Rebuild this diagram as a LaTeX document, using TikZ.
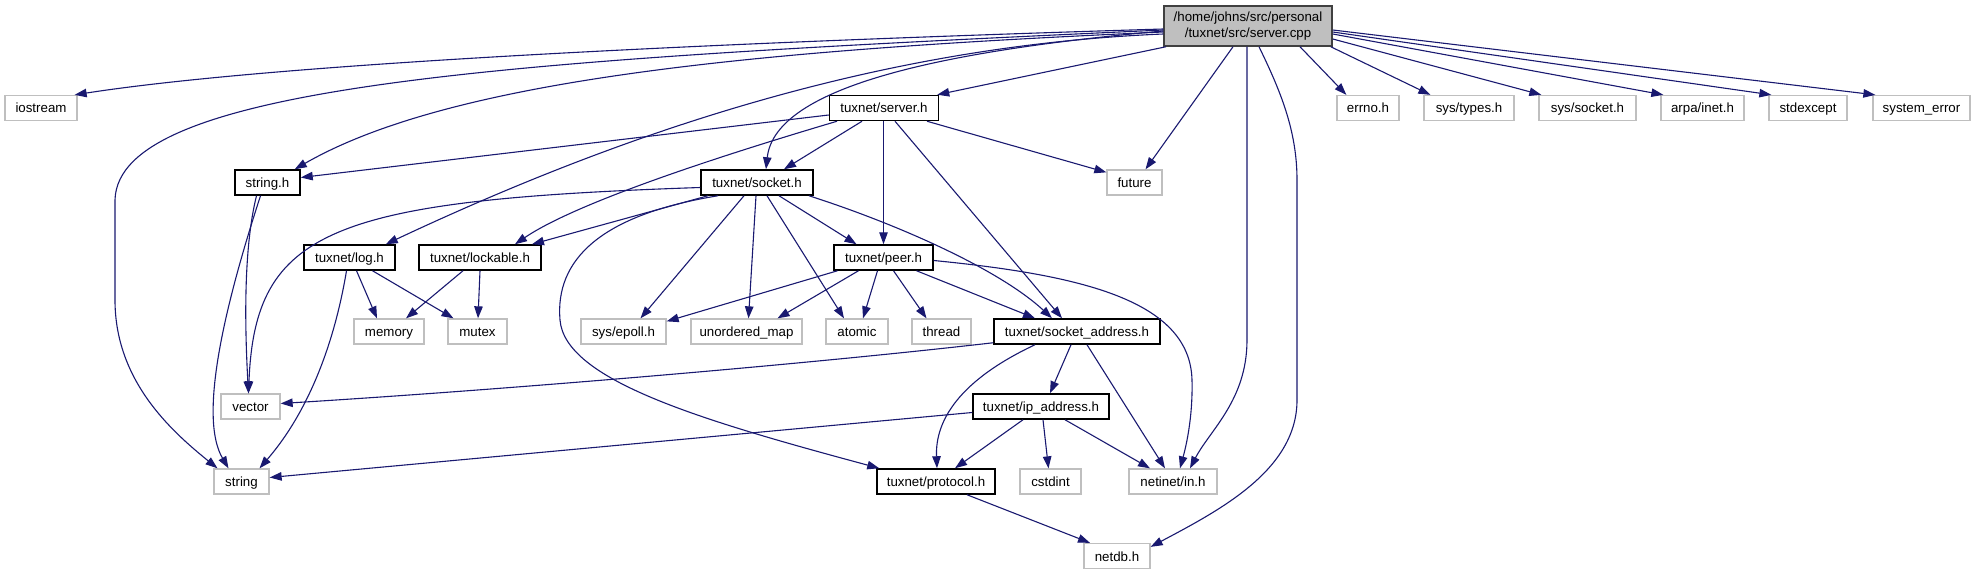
\documentclass[tikz,border=0pt]{standalone}
\usepackage{fontspec}
\setmainfont{Liberation Sans}
\usetikzlibrary{arrows.meta}
\definecolor{edgeblue}{HTML}{191970}
\definecolor{gborder}{HTML}{BFBFBF}
\definecolor{rootfill}{HTML}{BFBFBF}
\begin{document}
\begin{tikzpicture}[x=1pt,y=-1pt,
  base/.style={rectangle, inner sep=0pt, minimum height=25pt, text height=10.5pt, text depth=0.5pt, font=\fontsize{13.3}{15.5}\selectfont},
  gbox/.style={base, draw=gborder, line width=1.3pt},
  bbox/.style={base, draw=black, line width=1.5pt},
  rootbox/.style={rectangle, inner sep=0pt, minimum height=40pt, minimum width=168pt, align=center, fill=rootfill, draw=black!75, line width=1.5pt, font=\fontsize{13.3}{15.5}\selectfont},
  wd/.style={minimum width=#1pt},
  dep/.style={draw=edgeblue, line width=1.1pt, -{Triangle[length=12pt,width=8.5pt]}}
]
\useasboundingbox (0,0) rectangle (1976,575);

% nodes
\node[rootbox] (root) at (1248,26) {/home/johns/src/personal\\/tuxnet/src/server.cpp};
\node[gbox,wd=72] (iostream) at (41,108) {iostream};
\node[bbox,wd=109] (serverh) at (884,108) {tuxnet/server.h};
\node[gbox,wd=62] (errno) at (1368,108) {errno.h};
\node[gbox,wd=90] (systypes) at (1469,108) {sys/types.h};
\node[gbox,wd=97] (syssocket) at (1587.5,108) {sys/socket.h};
\node[gbox,wd=83] (arpainet) at (1702.5,108) {arpa/inet.h};
\node[gbox,wd=78] (stdexcept) at (1808,108) {stdexcept};
\node[gbox,wd=97] (syserror) at (1921.5,108) {system\_error};

\node[bbox,wd=65] (stringh) at (267.5,182.5) {string.h};
\node[bbox,wd=112] (socketh) at (757,182.5) {tuxnet/socket.h};
\node[gbox,wd=55] (future) at (1134.5,182.5) {future};

\node[bbox,wd=91] (logh) at (349.5,257.5) {tuxnet/log.h};
\node[bbox,wd=122] (lockable) at (480,257.5) {tuxnet/lockable.h};
\node[bbox,wd=99] (peerh) at (883.5,257.5) {tuxnet/peer.h};

\node[gbox,wd=70] (memory) at (389,331.5) {memory};
\node[gbox,wd=59] (mutex) at (477.5,331.5) {mutex};
\node[gbox,wd=85] (epoll) at (623.5,331.5) {sys/epoll.h};
\node[gbox,wd=111] (umap) at (746.5,331.5) {unordered\_map};
\node[gbox,wd=62] (atomic) at (857,331.5) {atomic};
\node[gbox,wd=59] (thread) at (941.5,331.5) {thread};
\node[bbox,wd=166] (sockaddr) at (1077,331.5) {tuxnet/socket\_address.h};

\node[gbox,wd=59] (vector) at (250.5,406.5) {vector};
\node[bbox,wd=136] (ipaddr) at (1041,406.5) {tuxnet/ip\_address.h};

\node[gbox,wd=55] (string) at (241.5,481.5) {string};
\node[bbox,wd=118] (protocol) at (936,481.5) {tuxnet/protocol.h};
\node[gbox,wd=61] (cstdint) at (1050.5,481.5) {cstdint};
\node[gbox,wd=88] (netinet) at (1173,481.5) {netinet/in.h};

\node[gbox,wd=66] (netdb) at (1117,556) {netdb.h};

% edges from root
\draw[dep] ([yshift=-3pt]root.west) .. controls (800,40) and (300,60) .. ([xshift=-3pt]iostream.north east);
\draw[dep] ([yshift=-4pt]root.west) .. controls (500,60) and (118,85) .. (115,200) -- (115,300) .. controls (115,380) and (170,430) .. ([xshift=-24pt]string.north);
\draw[dep] ([yshift=-6pt]root.west) .. controls (750,50) and (450,80) .. ([xshift=-6pt]stringh.north east);
\draw[dep] ([yshift=-8pt]root.west) .. controls (900,45) and (650,120) .. ([xshift=-10pt]logh.north east);
\draw[dep] ([yshift=-5pt]root.west) .. controls (950,50) and (775,85) .. ([xshift=9pt]socketh.north);
\draw[dep] ([xshift=-82pt]root.south) -- ([xshift=-2pt]serverh.north east);
\draw[dep] ([xshift=-15pt]root.south) -- ([xshift=11pt]future.north);
\draw[dep] ([xshift=-1pt]root.south) -- (1247,340) .. controls (1247,400) and (1210,430) .. ([xshift=17pt]netinet.north);
\draw[dep] ([xshift=11pt]root.south) .. controls (1280,90) and (1297,130) .. (1297,180) -- (1297,400) .. controls (1297,470) and (1220,510) .. ([yshift=-4pt]netdb.north east);
\draw[dep] ([xshift=52pt]root.south) -- ([xshift=10pt]errno.north west);
\draw[dep] ([xshift=-2pt]root.south east) -- ([xshift=7pt]systypes.north west);
\draw[dep] ([yshift=-13pt]root.east) -- ([xshift=3pt]syssocket.north west);
\draw[dep] ([yshift=-8pt]root.east) -- ([xshift=3pt]arpainet.north west);
\draw[dep] ([yshift=-6pt]root.east) -- ([xshift=3pt]stdexcept.north west);
\draw[dep] ([yshift=-4pt]root.east) -- ([xshift=3pt]syserror.north west);

% edges from server.h
\draw[dep] ([yshift=-7pt]serverh.west) -- ([yshift=5pt]stringh.east);
\draw[dep] ([xshift=-22pt]serverh.south) -- ([xshift=27pt]socketh.north);
\draw[dep] ([xshift=-47pt]serverh.south) .. controls (740,150) and (580,200) .. ([xshift=35pt]lockable.north);
\draw[dep] ([xshift=-0.5pt]serverh.south) -- (peerh.north);
\draw[dep] ([xshift=11pt]serverh.south) -- ([xshift=-15pt]sockaddr.north);
\draw[dep] ([xshift=43pt]serverh.south) -- ([yshift=-3pt]future.north west);

% edges from string.h
\draw[dep] ([xshift=-11pt]stringh.south) .. controls (243,250) and (245,330) .. ([xshift=-2pt]vector.north);
\draw[dep] ([xshift=-7pt]stringh.south) .. controls (220,320) and (200,420) .. ([xshift=-13pt]string.north);

% edges from socket.h
\draw[dep] ([yshift=-5pt]socketh.west) .. controls (330,200) and (255,230) .. ([xshift=-2pt]vector.north);
\draw[dep] ([xshift=-49pt]socketh.south) -- ([xshift=52pt]lockable.north);
\draw[dep] ([xshift=-39pt]socketh.south) .. controls (600,215) and (555,260) .. (560,320) .. controls (565,380) and (700,420) .. ([xshift=3pt]protocol.north west);
\draw[dep] ([xshift=-13pt]socketh.south) -- ([xshift=17pt]epoll.north);
\draw[dep] ([xshift=-1pt]socketh.south) -- ([xshift=2pt]umap.north);
\draw[dep] ([xshift=10pt]socketh.south) -- ([xshift=-13pt]atomic.north);
\draw[dep] ([xshift=22pt]socketh.south) -- ([xshift=-27pt]peerh.north);
\draw[dep] ([xshift=52pt]socketh.south) .. controls (900,225) and (1000,270) .. ([xshift=-25pt]sockaddr.north);

% edges from log.h
\draw[dep] ([xshift=7pt]logh.south) -- ([xshift=-12pt]memory.north);
\draw[dep] ([xshift=23pt]logh.south) -- ([xshift=-24pt]mutex.north);
\draw[dep] ([xshift=-3pt]logh.south) .. controls (335,340) and (310,410) .. ([xshift=18pt]string.north);

% edges from lockable.h
\draw[dep] ([xshift=-17pt]lockable.south) -- ([xshift=17pt]memory.north);
\draw[dep] (lockable.south) -- ([xshift=0.5pt]mutex.north);

% edges from peer.h
\draw[dep] ([xshift=-46pt]peerh.south) -- ([yshift=-3pt]epoll.north east);
\draw[dep] ([xshift=-25pt]peerh.south) -- ([xshift=31pt]umap.north);
\draw[dep] ([xshift=-6pt]peerh.south) -- ([xshift=6pt]atomic.north);
\draw[dep] ([xshift=10pt]peerh.south) -- ([xshift=-15pt]thread.north);
\draw[dep] ([xshift=33pt]peerh.south) -- ([xshift=-42pt]sockaddr.north);
\draw[dep] ([yshift=-3pt]peerh.east) .. controls (1080,275) and (1190,300) .. (1192,380) .. controls (1193,420) and (1185,450) .. ([xshift=7pt]netinet.north);

% edges from socket_address.h
\draw[dep] ([yshift=2pt]sockaddr.south west) .. controls (800,365) and (500,390) .. ([yshift=3pt]vector.east);
\draw[dep] ([xshift=-42pt]sockaddr.south) .. controls (960,380) and (935,420) .. ([xshift=1pt]protocol.north);
\draw[dep] ([xshift=-6pt]sockaddr.south) -- ([xshift=9pt]ipaddr.north);
\draw[dep] ([xshift=10pt]sockaddr.south) -- ([xshift=-8pt]netinet.north);

% edges from ip_address.h
\draw[dep] ([yshift=-6pt]ipaddr.west) -- ([yshift=4pt]string.east);
\draw[dep] ([xshift=-18pt]ipaddr.south) -- ([xshift=19pt]protocol.north);
\draw[dep] ([xshift=2pt]ipaddr.south) -- ([xshift=-2pt]cstdint.north);
\draw[dep] ([xshift=24pt]ipaddr.south) -- ([xshift=-23pt]netinet.north);

% edge from protocol.h
\draw[dep] ([xshift=31pt]protocol.south) -- ([xshift=-27pt]netdb.north);
\end{tikzpicture}
\end{document}
